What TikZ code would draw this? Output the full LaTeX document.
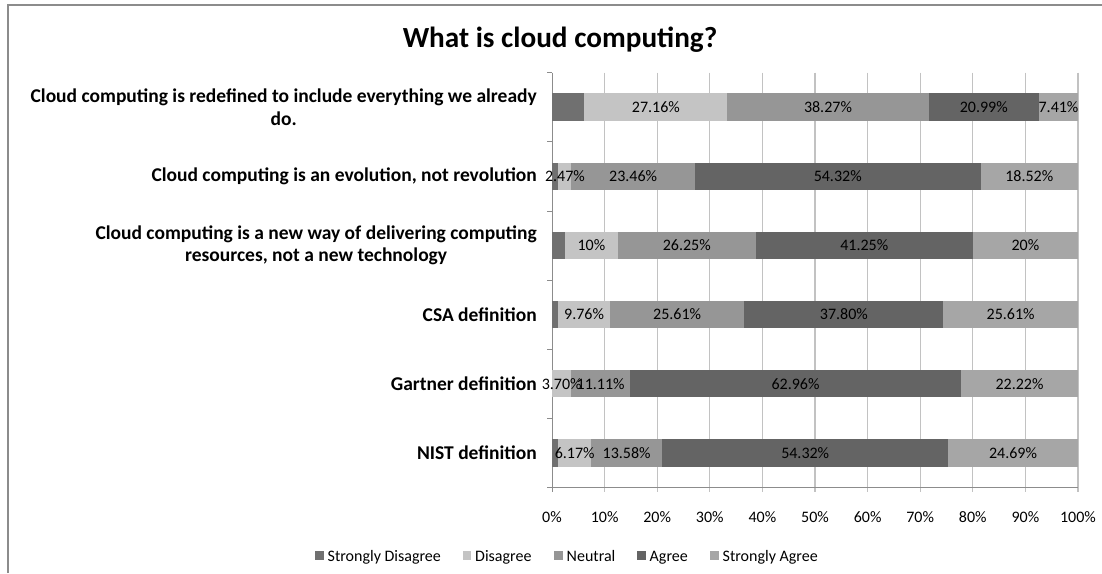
\documentclass[tikz,border=0pt]{standalone}
\usepackage{fontspec}
\setmainfont{Carlito}
\definecolor{sdis}{HTML}{707070}
\definecolor{dis}{HTML}{C4C4C4}
\definecolor{neu}{HTML}{969696}
\definecolor{agr}{HTML}{646464}
\definecolor{sagr}{HTML}{A6A6A6}
\definecolor{gridgray}{HTML}{C2C2C2}
\definecolor{axisgray}{HTML}{8C8C8C}

\begin{document}
\begin{tikzpicture}[x=1pt,y=-1pt,
  frame/.style={draw=axisgray,line width=1.2pt},
  gridline/.style={draw=gridgray,line width=1.3pt},
  axisline/.style={draw=axisgray,line width=0.8pt},
  cat/.style={anchor=east,align=center,inner sep=0pt,font=\fontsize{19.5}{22.5}\bfseries\selectfont},
  val/.style={inner sep=0pt,font=\fontsize{16}{18}\selectfont},
  tick/.style={inner sep=0pt,font=\fontsize{16}{18}\selectfont},
  legend/.style={anchor=base west,inner sep=0pt,font=\fontsize{16}{18}\selectfont}]
\useasboundingbox[fill=white] (0,0) rectangle (1102,573);
\path[frame] (8,573) -- (8,5) -- (1102,5);

\node[anchor=base,inner sep=0pt,font=\fontsize{29.2}{33}\bfseries\selectfont] (title) at (560,47.3) {What is cloud computing?};

% grid and axes
\path[gridline] (604.6,72.7) -- (604.6,492.3) (657.2,72.7) -- (657.2,492.3) (709.8,72.7) -- (709.8,492.3) (762.4,72.7) -- (762.4,492.3) (815,72.7) -- (815,492.3);
\path[gridline] (867.6,72.7) -- (867.6,492.3) (920.2,72.7) -- (920.2,492.3) (972.8,72.7) -- (972.8,492.3) (1025.4,72.7) -- (1025.4,492.3) (1078,72.7) -- (1078,492.3);
\path[axisline] (552,72.7) -- (552,492.3) (547,487.3) -- (1078,487.3);
\path[axisline] (547,72.7) -- (552,72.7) (547,141.8) -- (552,141.8) (547,210.9) -- (552,210.9) (547,280) -- (552,280) (547,349.1) -- (552,349.1) (547,418.2) -- (552,418.2);

% bars
\path[fill=sdis] (552,93.45) rectangle (584.45,121.05);
\path[fill=dis] (584.45,93.45) rectangle (727.32,121.05);
\path[fill=neu] (727.32,93.45) rectangle (928.62,121.05);
\path[fill=agr] (928.62,93.45) rectangle (1039.02,121.05);
\path[fill=sagr] (1039.02,93.45) rectangle (1078,121.05);

\path[fill=sdis] (552,162.55) rectangle (558.47,190.15);
\path[fill=dis] (558.47,162.55) rectangle (571.46,190.15);
\path[fill=neu] (571.46,162.55) rectangle (694.86,190.15);
\path[fill=agr] (694.86,162.55) rectangle (980.58,190.15);
\path[fill=sagr] (980.58,162.55) rectangle (1078,190.15);

\path[fill=sdis] (552,231.65) rectangle (565.15,259.25);
\path[fill=dis] (565.15,231.65) rectangle (617.75,259.25);
\path[fill=neu] (617.75,231.65) rectangle (755.83,259.25);
\path[fill=agr] (755.83,231.65) rectangle (972.8,259.25);
\path[fill=sagr] (972.8,231.65) rectangle (1078,259.25);

\path[fill=sdis] (552,300.75) rectangle (558.42,328.35);
\path[fill=dis] (558.42,300.75) rectangle (609.75,328.35);
\path[fill=neu] (609.75,300.75) rectangle (744.46,328.35);
\path[fill=agr] (744.46,300.75) rectangle (943.29,328.35);
\path[fill=sagr] (943.29,300.75) rectangle (1078,328.35);

\path[fill=dis] (552,369.85) rectangle (571.46,397.45);
\path[fill=neu] (571.46,369.85) rectangle (629.9,397.45);
\path[fill=agr] (629.9,369.85) rectangle (961.07,397.45);
\path[fill=sagr] (961.07,369.85) rectangle (1078,397.45);

\path[fill=sdis] (552,438.95) rectangle (558.47,466.55);
\path[fill=dis] (558.47,438.95) rectangle (590.92,466.55);
\path[fill=neu] (590.92,438.95) rectangle (662.35,466.55);
\path[fill=agr] (662.35,438.95) rectangle (948.08,466.55);
\path[fill=sagr] (948.08,438.95) rectangle (1078,466.55);

% values
\node[val] (v12) at (655.9,107.25) {27.16\%};
\node[val] (v13) at (827.97,107.25) {38.27\%};
\node[val] (v14) at (983.8,107.25) {20.99\%};
\node[val] (v15) at (1058.5,107.25) {7.41\%};
\node[val] (v22) at (564.97,176.35) {2.47\%};
\node[val] (v23) at (633.16,176.35) {23.46\%};
\node[val] (v24) at (837.72,176.35) {54.32\%};
\node[val] (v25) at (1029.29,176.35) {18.52\%};
\node[val] (v32) at (591.45,245.45) {10\%};
\node[val] (v33) at (686.79,245.45) {26.25\%};
\node[val] (v34) at (864.31,245.45) {41.25\%};
\node[val] (v35) at (1025.4,245.45) {20\%};
\node[val] (v42) at (584.08,314.55) {9.76\%};
\node[val] (v43) at (677.1,314.55) {25.61\%};
\node[val] (v44) at (843.87,314.55) {37.80\%};
\node[val] (v45) at (1010.64,314.55) {25.61\%};
\node[val] (v52) at (561.73,383.65) {3.70\%};
\node[val] (v53) at (600.68,383.65) {11.11\%};
\node[val] (v54) at (795.49,383.65) {62.96\%};
\node[val] (v55) at (1019.5,383.65) {22.22\%};
\node[val] (v62) at (574.7,452.75) {6.17\%};
\node[val] (v63) at (626.6,452.75) {13.58\%};
\node[val] (v64) at (805.2,452.75) {54.32\%};
\node[val] (v65) at (1013,452.75) {24.69\%};

% categories
\node[cat] (q1) at (537,107.25) {Cloud computing is redefined to include everything we already\\do.};
\node[cat] (q2) at (537,176.35) {Cloud computing is an evolution, not revolution};
\node[cat] (q3) at (537,245.45) {Cloud computing is a new way of delivering computing\\resources, not a new technology};
\node[cat] (q4) at (537,314.55) {CSA definition};
\node[cat] (q5) at (537,383.65) {Gartner definition};
\node[cat] (q6) at (537,452.75) {NIST definition};

% x axis labels
\node[tick] (x0) at (552,517) {0\%};
\node[tick] (x1) at (604.6,517) {10\%};
\node[tick] (x2) at (657.2,517) {20\%};
\node[tick] (x3) at (709.8,517) {30\%};
\node[tick] (x4) at (762.4,517) {40\%};
\node[tick] (x5) at (815,517) {50\%};
\node[tick] (x6) at (867.6,517) {60\%};
\node[tick] (x7) at (920.2,517) {70\%};
\node[tick] (x8) at (972.8,517) {80\%};
\node[tick] (x9) at (1025.4,517) {90\%};
\node[tick] (x10) at (1078,517) {100\%};

% legend
\path[fill=sdis] (315,551) rectangle (323.5,559.5);
\node[legend] (l1) at (327.5,561) {Strongly Disagree};
\path[fill=dis] (462.5,551) rectangle (471,559.5);
\node[legend] (l2) at (475,561) {Disagree};
\path[fill=neu] (554,551) rectangle (562.5,559.5);
\node[legend] (l3) at (566.5,561) {Neutral};
\path[fill=agr] (637,551) rectangle (645.5,559.5);
\node[legend] (l4) at (649.5,561) {Agree};
\path[fill=sagr] (710,551) rectangle (718.5,559.5);
\node[legend] (l5) at (722.5,561) {Strongly Agree};
\end{tikzpicture}
\end{document}
